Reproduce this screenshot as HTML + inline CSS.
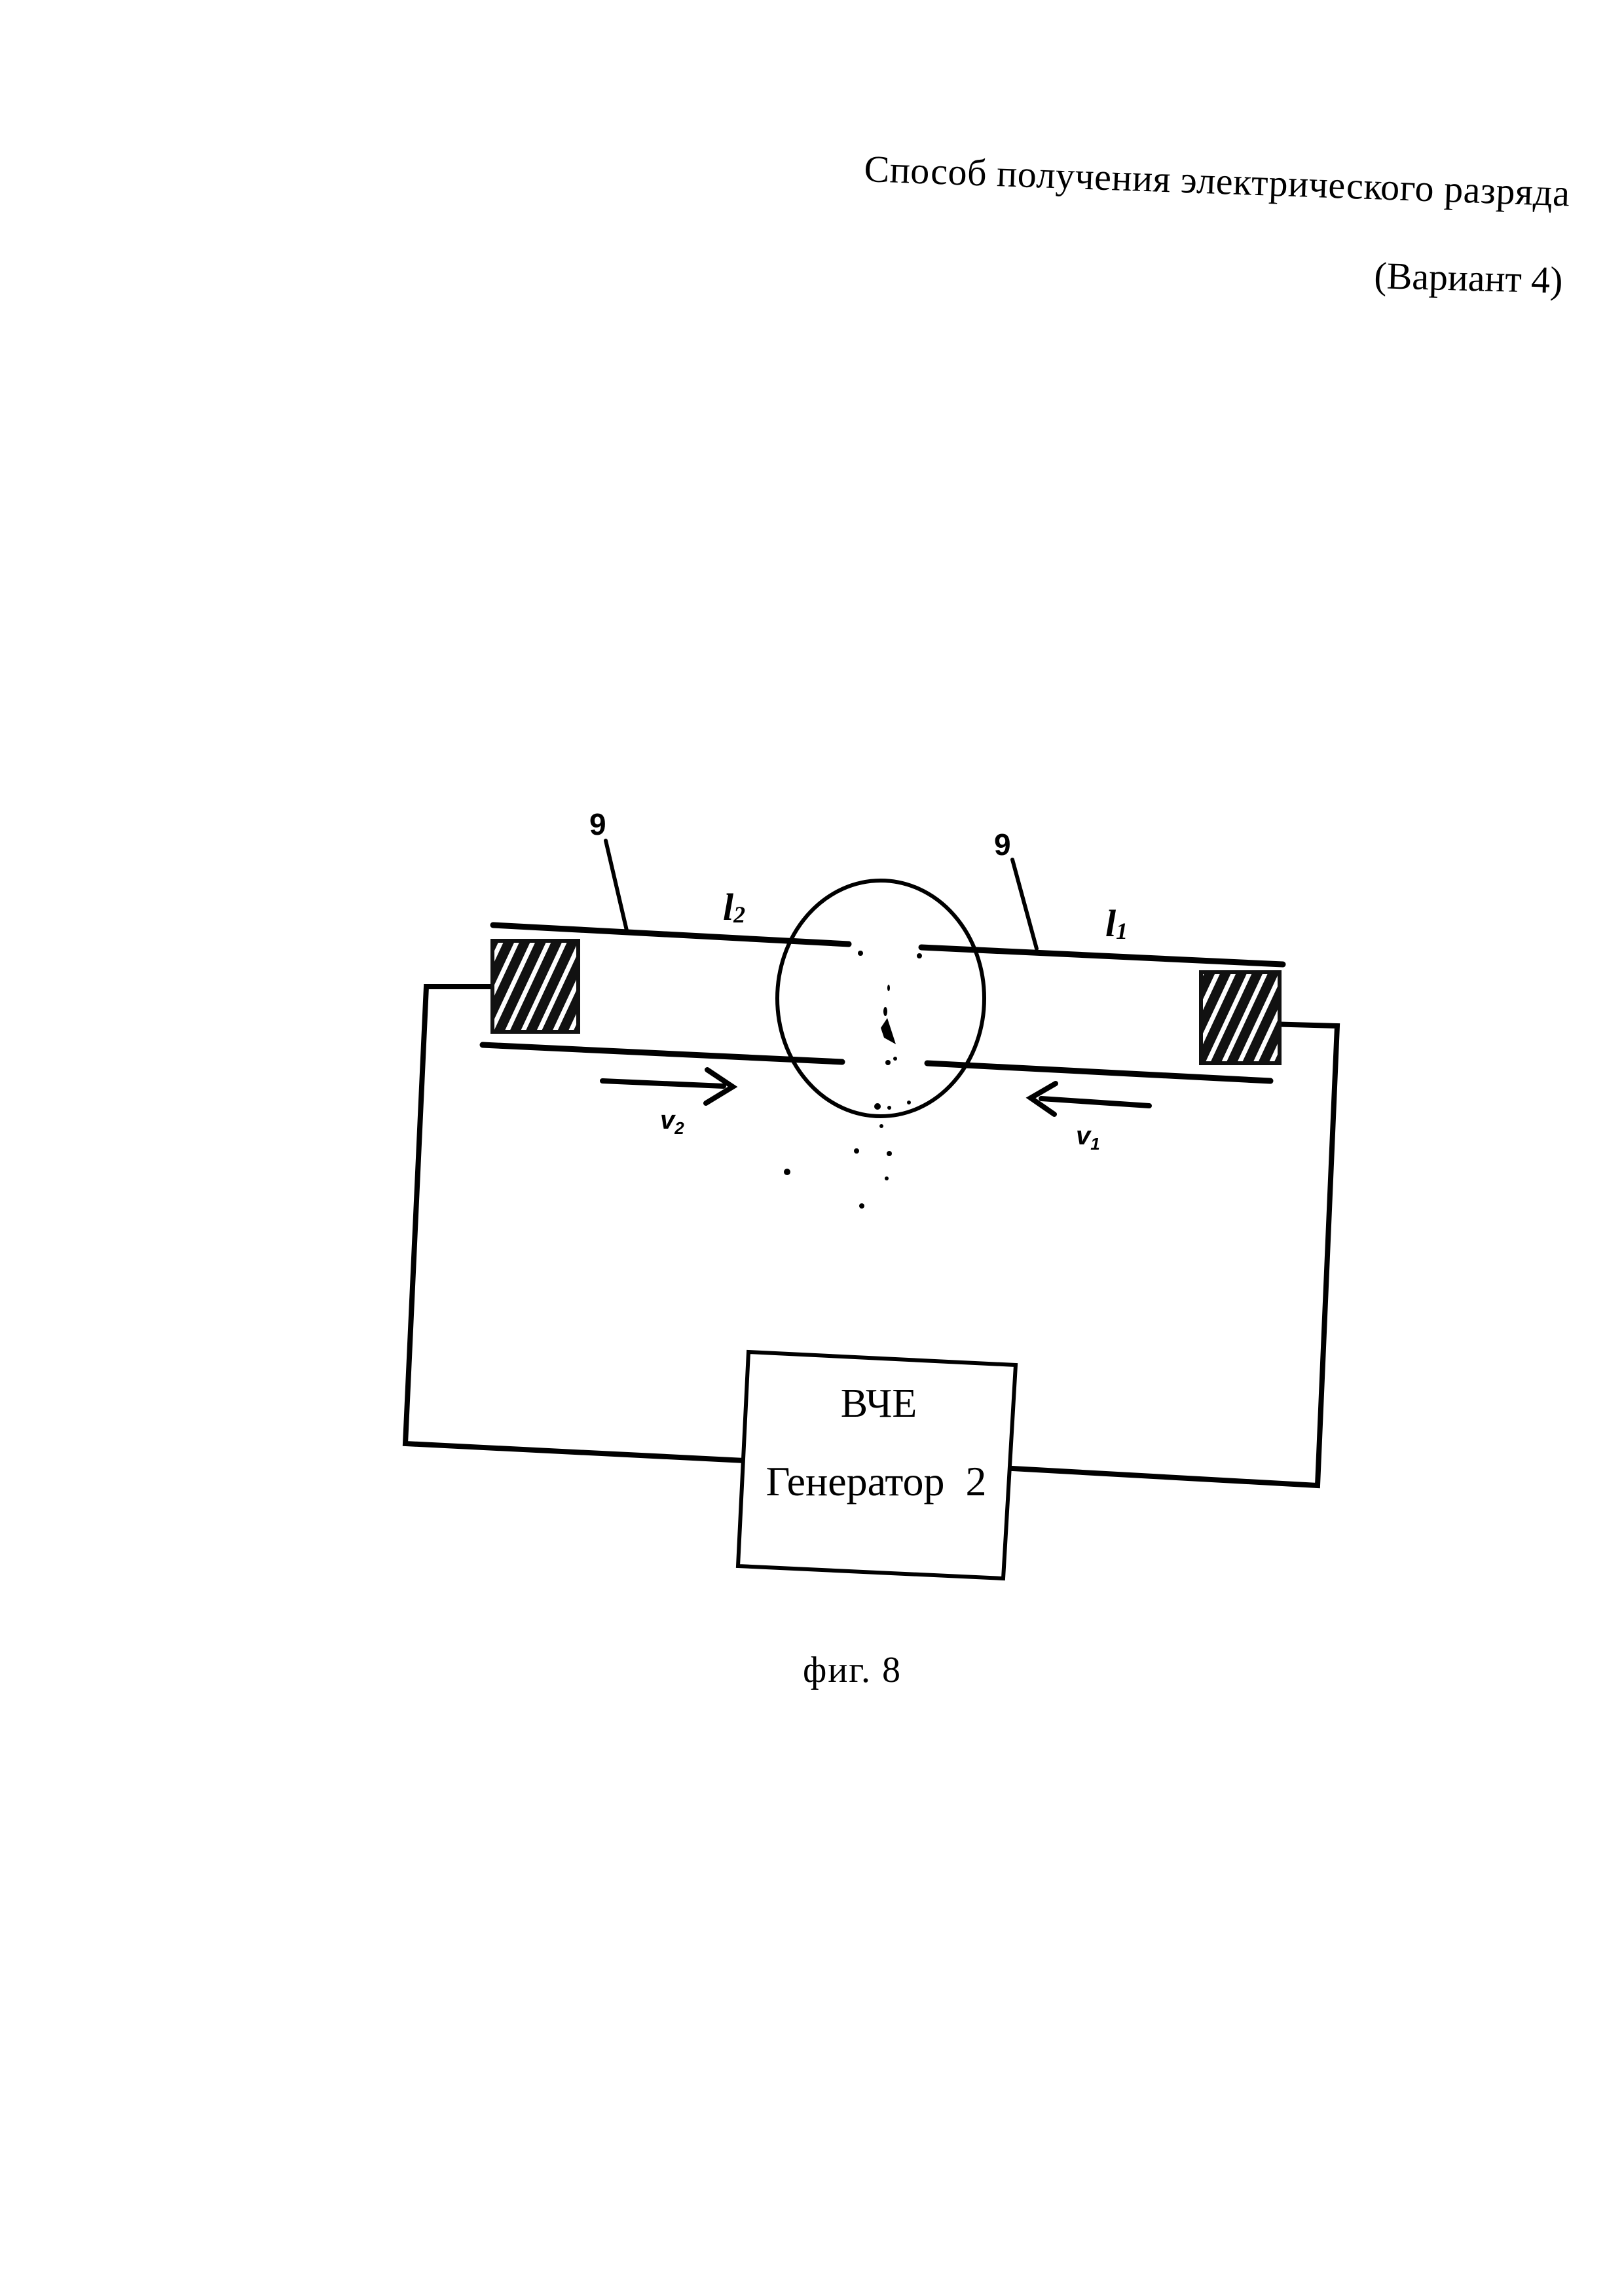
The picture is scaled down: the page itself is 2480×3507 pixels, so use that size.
<!DOCTYPE html>
<html><head><meta charset="utf-8"><style>
html,body{margin:0;padding:0;background:#fff}
svg{display:block}
</style></head><body>
<svg width="2480" height="3507" viewBox="0 0 2480 3507" xmlns="http://www.w3.org/2000/svg">
<defs>
<pattern id="h" width="22" height="22" patternUnits="userSpaceOnUse" patternTransform="rotate(25)">
<rect width="22" height="22" fill="#111"/><rect x="0" y="0" width="7" height="22" fill="#fff"/>
</pattern>
</defs>
<g stroke="#000" fill="none" stroke-linecap="round">
<line x1="753" y1="1413" x2="1296" y2="1442" stroke-width="9"/>
<line x1="1407" y1="1447" x2="1959" y2="1473" stroke-width="9"/>
<line x1="737" y1="1596" x2="1286" y2="1622" stroke-width="9"/>
<line x1="1416" y1="1624" x2="1940" y2="1651" stroke-width="9"/>
<ellipse cx="1345" cy="1525" rx="158" ry="180" stroke-width="6"/>
<polyline points="748,1507 651,1507 619,2205 1138,2231" stroke-width="8" stroke-linecap="square"/>
<polyline points="1546,2243 2012,2269 2042,1567 1936,1564" stroke-width="8" stroke-linecap="square"/>
<polygon points="1143,2065 1551,2085 1532,2411 1127,2392" stroke-width="6" fill="#fff"/>
<line x1="925" y1="1284" x2="957" y2="1421" stroke-width="6"/>
<line x1="1546" y1="1313" x2="1583" y2="1449" stroke-width="6"/>
<line x1="920" y1="1651" x2="1105" y2="1659" stroke-width="8"/>
<polyline points="1080,1634 1119,1660 1078,1685" stroke-width="8"/>
<line x1="1755" y1="1689" x2="1590" y2="1678" stroke-width="8"/>
<polyline points="1612,1655 1574,1677 1610,1702" stroke-width="8"/>
</g>
<g font-family="'Liberation Serif','Noto Serif CJK SC',serif" fill="#000">
<text x="1319" y="277" font-size="58" transform="rotate(2 1319 277)" textLength="1078">Способ получения электрического разряда</text>
<text x="2098" y="440" font-size="58" transform="rotate(1.5 2098 440)" textLength="288">(Вариант 4)</text>
<text x="1342" y="2164" font-size="62" text-anchor="middle">ВЧЕ</text>
<text x="1338" y="2284" font-size="64" text-anchor="middle" xml:space="preserve">Генератор  2</text>
<text x="1226" y="2569" font-size="56" textLength="149">фиг. 8</text>
</g>
<rect x="752" y="1437" width="131" height="139" fill="url(#h)" stroke="#111" stroke-width="6"/>
<rect x="1834" y="1485" width="120" height="139" fill="url(#h)" stroke="#111" stroke-width="6"/>
<g font-family="'Liberation Sans',sans-serif" font-weight="bold" fill="#000">
<text x="900" y="1275" font-size="46">9</text>
<text x="1518" y="1306" font-size="46">9</text>
<text x="1008" y="1724" font-size="40" font-style="italic">v<tspan font-size="26" dy="8">2</tspan></text>
<text x="1643" y="1748" font-size="40" font-style="italic">v<tspan font-size="26" dy="8">1</tspan></text>
</g>
<g font-family="'Liberation Serif',serif" font-weight="bold" font-style="italic" fill="#000">
<text x="1104" y="1405" font-size="58">l<tspan font-size="36" dy="4">2</tspan></text>
<text x="1688" y="1430" font-size="58">l<tspan font-size="36" dy="4">1</tspan></text>
</g>
<g fill="#000">
<circle cx="1314" cy="1456" r="4"/><circle cx="1404" cy="1460" r="4"/>
<ellipse cx="1357" cy="1509" rx="2" ry="5"/><ellipse cx="1352" cy="1545" rx="3" ry="7"/>
<path d="M1345 1570 L1355 1555 L1368 1595 L1350 1585 Z"/>
<circle cx="1356" cy="1623" r="4"/><circle cx="1367" cy="1617" r="3"/>
<circle cx="1340" cy="1690" r="5"/><circle cx="1358" cy="1692" r="3"/><circle cx="1388" cy="1684" r="3"/>
<circle cx="1346" cy="1720" r="3"/><circle cx="1308" cy="1758" r="4"/><circle cx="1358" cy="1762" r="4"/>
<circle cx="1202" cy="1790" r="5"/><circle cx="1354" cy="1800" r="3"/><circle cx="1316" cy="1842" r="4"/>
</g>
</svg>
</body></html>
